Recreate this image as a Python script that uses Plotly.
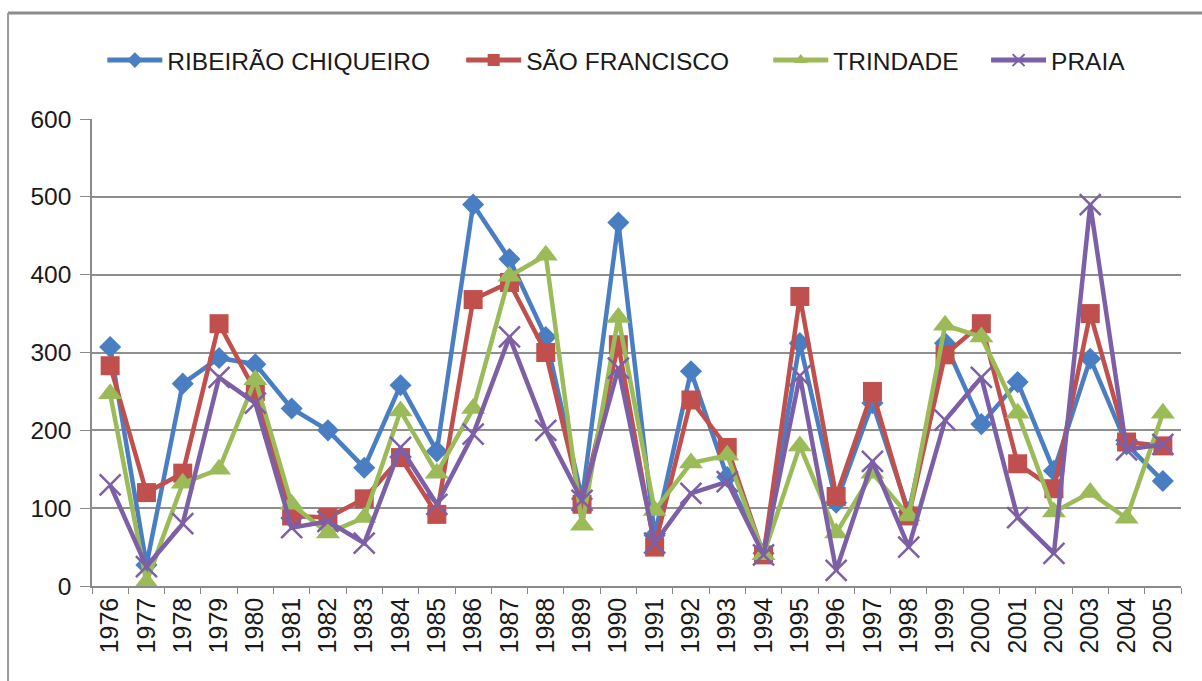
import plotly.graph_objects as go

# Annual values per station, 1976-2005
years = [str(y) for y in range(1976, 2006)]

ribeirao_chiqueiro = [307, 27, 260, 293, 285, 228, 200, 152, 258, 173,
                      490, 420, 320, 112, 467, 65, 276, 140, 42, 312,
                      107, 235, 95, 312, 208, 262, 148, 292, 182, 135]
sao_francisco = [283, 120, 145, 337, 250, 90, 88, 112, 165, 92,
                 368, 390, 300, 105, 310, 50, 239, 178, 40, 372,
                 115, 250, 90, 297, 337, 157, 125, 350, 185, 180]
trindade = [247, 5, 132, 150, 265, 105, 68, 88, 225, 145,
            228, 398, 425, 78, 345, 97, 158, 168, 40, 180,
            68, 145, 90, 335, 320, 222, 95, 120, 87, 222]
praia = [130, 25, 80, 268, 235, 75, 83, 55, 178, 105,
         195, 320, 200, 110, 280, 55, 119, 134, 40, 270,
         20, 160, 50, 213, 268, 88, 42, 490, 175, 182]

y_ticks = [0, 100, 200, 300, 400, 500, 600]

series = [
    ("RIBEIRÃO CHIQUEIRO", ribeirao_chiqueiro, "#4A7EC2", "diamond", 17, "legend"),
    ("SÃO FRANCISCO", sao_francisco, "#C0504D", "square", 19, "legend2"),
    ("TRINDADE", trindade, "#9BBB59", "triangle-up", 21, "legend3"),
    ("PRAIA", praia, "#7D5FA6", "x-thin-open", 21, "legend4"),
]

fig = go.Figure()
for name, vals, color, symbol, size, leg in series:
    marker = dict(symbol=symbol, size=size, color=color)
    if symbol == "x-thin-open":
        marker["line"] = dict(color=color, width=2.5)
    fig.add_trace(go.Scatter(
        x=years, y=vals, name=name, mode="lines+markers",
        line=dict(color=color, width=4.5),
        marker=marker, legend=leg,
    ))

legend_common = dict(
    orientation="h", yanchor="middle", y=1.126, xanchor="left",
    font=dict(family="Liberation Sans, Arial, sans-serif", size=24.5, color="#1a1a1a"),
    bgcolor="rgba(0,0,0,0)", itemwidth=55, itemsizing="constant",
)

fig.update_layout(
    width=1202, height=681,
    margin=dict(l=92, r=21, t=119, b=95),
    paper_bgcolor="white", plot_bgcolor="white",
    showlegend=True,
    legend=dict(legend_common, x=0.0095),
    legend2=dict(legend_common, x=0.339),
    legend3=dict(legend_common, x=0.621),
    legend4=dict(legend_common, x=0.821),
    xaxis=dict(
        type="category", categoryorder="array", categoryarray=years,
        range=[-0.5, len(years) - 0.5],
        tickson="boundaries", ticks="outside", ticklen=6, tickcolor="#8a8a8a",
        showline=True, linecolor="#8a8a8a", linewidth=1.5,
        tickangle=-90, showgrid=False,
        tickfont=dict(family="Liberation Sans, Arial, sans-serif", size=25, color="#1a1a1a"),
    ),
    yaxis=dict(
        range=[0, 600], tickvals=y_ticks, ticks="outside", ticklen=10,
        tickcolor="#8a8a8a", showline=True, linecolor="#8a8a8a", linewidth=1.5,
        showgrid=True, gridcolor="#8f8f8f", gridwidth=1.5, zeroline=False,
        tickfont=dict(family="Liberation Sans, Arial, sans-serif", size=24.5, color="#1a1a1a"),
        ticklabelstandoff=4,
    ),
    shapes=[
        # chart frame (top and left edges)
        dict(type="line", xref="paper", yref="paper",
             x0=-0.0771, x1=1.03, y0=1.227, y1=1.227,
             line=dict(color="#8c8c8c", width=3)),
        dict(type="line", xref="paper", yref="paper",
             x0=-0.0771, x1=-0.0771, y0=1.227, y1=-0.25,
             line=dict(color="#9a9a9a", width=2)),
    ],
)

fig.write_html("out.html")
